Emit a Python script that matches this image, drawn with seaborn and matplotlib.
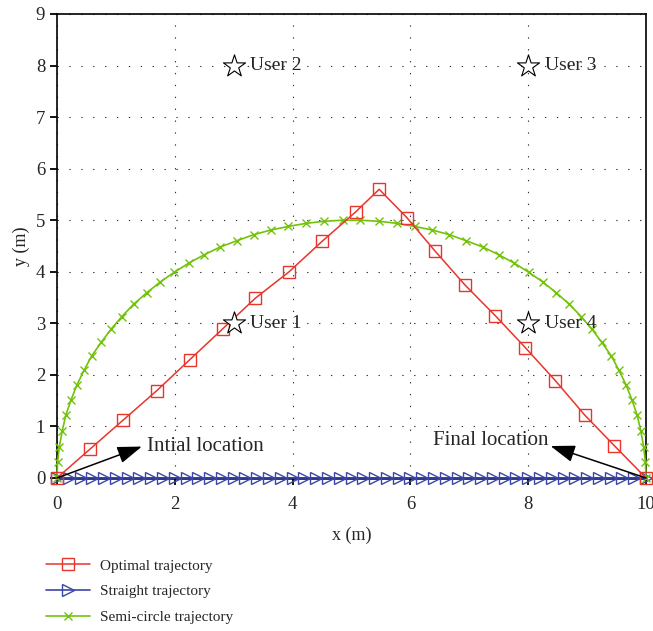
import matplotlib
matplotlib.use("Agg")
import matplotlib.pyplot as plt
import seaborn as sns
import pandas as pd

# ---------------- data ----------------
opt_x = [0.0, 0.56, 1.12, 1.69, 2.25, 2.81, 3.37, 3.94, 4.50, 5.07, 5.47,
         5.94, 6.42, 6.93, 7.44, 7.95, 8.46, 8.96, 9.46, 10.0]
opt_y = [0.0, 0.56, 1.12, 1.69, 2.29, 2.89, 3.49, 4.00, 4.59, 5.16, 5.60,
         5.05, 4.40, 3.74, 3.15, 2.53, 1.89, 1.22, 0.63, 0.0]

str_x = [0.0, 0.2, 0.4, 0.6, 0.8, 1.0, 1.2, 1.4, 1.6, 1.8, 2.0, 2.2, 2.4, 2.6,
         2.8, 3.0, 3.2, 3.4, 3.6, 3.8, 4.0, 4.2, 4.4, 4.6, 4.8, 5.0, 5.2, 5.4,
         5.6, 5.8, 6.0, 6.2, 6.4, 6.6, 6.8, 7.0, 7.2, 7.4, 7.6, 7.8, 8.0, 8.2,
         8.4, 8.6, 8.8, 9.0, 9.2, 9.4, 9.6, 9.8, 10.0]
str_y = [0.0] * len(str_x)

semi_x = [0.00, 0.01, 0.04, 0.09, 0.15, 0.24, 0.34, 0.46, 0.59, 0.75, 0.92,
          1.10, 1.30, 1.52, 1.75, 1.99, 2.24, 2.50, 2.77, 3.05, 3.34, 3.63,
          3.93, 4.23, 4.54, 4.85, 5.15, 5.46, 5.77, 6.07, 6.37, 6.66, 6.95,
          7.23, 7.50, 7.76, 8.01, 8.25, 8.48, 8.70, 8.90, 9.08, 9.25, 9.41,
          9.54, 9.66, 9.76, 9.85, 9.91, 9.96, 9.99, 10.00]
semi_y = [0.00, 0.31, 0.61, 0.92, 1.22, 1.52, 1.81, 2.09, 2.37, 2.63, 2.89,
          3.13, 3.37, 3.59, 3.80, 3.99, 4.17, 4.33, 4.48, 4.60, 4.72, 4.81,
          4.88, 4.94, 4.98, 5.00, 5.00, 4.98, 4.94, 4.88, 4.81, 4.72, 4.60,
          4.48, 4.33, 4.17, 3.99, 3.80, 3.59, 3.37, 3.13, 2.89, 2.63, 2.37,
          2.09, 1.81, 1.52, 1.22, 0.92, 0.61, 0.31, 0.00]

user_names = ["User 1", "User 2", "User 3", "User 4"]
user_x = [3, 3, 8, 8]
user_y = [3, 8, 8, 3]

x_ticks = [0, 2, 4, 6, 8, 10]
y_ticks = [0, 1, 2, 3, 4, 5, 6, 7, 8, 9]

# ---------------- style ----------------
sns.set_theme(style="ticks")
plt.rcParams["font.family"] = ["Liberation Serif", "DejaVu Serif"]

RED = "#e8352b"
BLUE = "#3b46a6"
GREEN = "#72c20a"

fig = plt.figure(figsize=(6.53, 6.31), dpi=100)
ax = fig.add_axes([57 / 653, 1 - 478 / 631, (646 - 57) / 653, (478 - 14) / 631])

df_opt = pd.DataFrame({"x": opt_x, "y": opt_y})
df_str = pd.DataFrame({"x": str_x, "y": str_y})
df_semi = pd.DataFrame({"x": semi_x, "y": semi_y})

sns.lineplot(data=df_str, x="x", y="y", ax=ax, sort=False, estimator=None,
             color=BLUE, lw=1.2, marker=">", ms=9, mfc="none", mec=BLUE, mew=1.0,
             label="Straight trajectory", zorder=3)
sns.lineplot(data=df_semi, x="x", y="y", ax=ax, sort=False, estimator=None,
             color=GREEN, lw=1.2, marker="x", ms=6, mec=GREEN, mew=1.0,
             label="Semi-circle trajectory", zorder=4)
sns.lineplot(data=df_opt, x="x", y="y", ax=ax, sort=False, estimator=None,
             color=RED, lw=1.1, marker="s", ms=8, mfc="none", mec=RED, mew=1.0,
             label="Optimal trajectory", zorder=5)

# users
ax.scatter(user_x, user_y, marker="*", s=280, facecolor="white",
           edgecolor="black", linewidth=0.8, zorder=6)
for n, ux, uy in zip(user_names, user_x, user_y):
    ax.text(ux + 0.28, uy, n, fontsize=14, va="center", ha="left", zorder=7)

# annotations: arrows from the corners toward the labels
arrow_kw = dict(arrowstyle="-|>,head_length=1.0,head_width=0.35",
                color="black", lw=1.1, shrinkA=0, shrinkB=0, mutation_scale=15)
ax.annotate("", xy=(1.44, 0.61), xytext=(0.0, 0.0), arrowprops=arrow_kw,
            zorder=7, annotation_clip=False)
ax.text(1.53, 0.62, "Intial location", fontsize=15, va="center", ha="left",
        zorder=7)
ax.annotate("", xy=(8.38, 0.62), xytext=(10.0, 0.0), arrowprops=arrow_kw,
            zorder=7, annotation_clip=False)
ax.text(8.34, 0.72, "Final location", fontsize=15, va="center", ha="right",
        zorder=7)

ax.set_xlim(0, 10)
ax.set_ylim(0, 9)
ax.set_xticks(x_ticks)
ax.set_yticks(y_ticks)
ax.set_xlabel("x (m)", fontsize=13, labelpad=10)
ax.set_ylabel("y (m)", fontsize=13, labelpad=4)
ax.tick_params(axis="both", direction="out", length=5, width=1.3,
               labelsize=13.5, color="black")
ax.tick_params(axis="x", pad=8)
ax.grid(True, linestyle=(0, (1.2, 9.5)), color="#333333", linewidth=0.8)
for s in ax.spines.values():
    s.set_visible(True)
    s.set_color("black")
    s.set_linewidth(1.2)
ax.spines["bottom"].set_linewidth(1.8)
for ln in ax.lines:
    ln.set_clip_on(False)

# legend below, order: Optimal, Straight, Semi-circle
handles, labels = ax.get_legend_handles_labels()
order = [labels.index("Optimal trajectory"), labels.index("Straight trajectory"),
         labels.index("Semi-circle trajectory")]
ax.get_legend().remove()
fig.legend([handles[i] for i in order], [labels[i] for i in order],
           loc="upper left", bbox_to_anchor=(40 / 653, 1 - 553 / 631),
           frameon=False, fontsize=11, handlelength=2.9, labelspacing=0.78,
           handletextpad=0.65, borderaxespad=0)

fig.savefig("out.png", dpi=100)
